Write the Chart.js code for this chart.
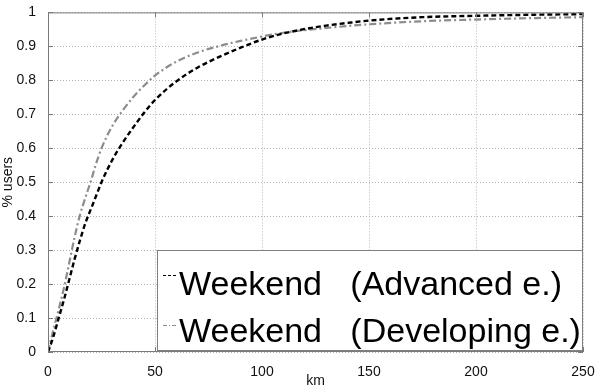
<!DOCTYPE html>
<html>
<head>
<meta charset="utf-8">
<script src="https://cdn.jsdelivr.net/npm/chart.js@4"></script>
<style>
  html, body { margin: 0; padding: 0; background: #fff; }
  #wrap { width: 611px; height: 390px; }
</style>
</head>
<body>
<div id="wrap"><canvas id="cdf"></canvas></div>
<script>
// datos (km vs fraccion acumulada de usuarios)
const km = [0, 2.5, 5, 7.5, 10, 12.5, 15, 17.5, 20, 22.5, 25, 30, 35, 40, 45, 50, 60, 70, 80, 90, 100, 110, 120, 130, 140, 150, 175, 200, 225, 250];
const advanced = [0, 0.045, 0.1, 0.155, 0.215, 0.275, 0.33, 0.38, 0.42, 0.46, 0.5, 0.565, 0.617, 0.663, 0.705, 0.742, 0.797, 0.838, 0.869, 0.896, 0.92, 0.938, 0.951, 0.961, 0.969, 0.976, 0.986, 0.99, 0.993, 0.995];
const developing = [0, 0.065, 0.125, 0.19, 0.265, 0.34, 0.405, 0.455, 0.503, 0.555, 0.6, 0.665, 0.712, 0.752, 0.785, 0.814, 0.855, 0.882, 0.901, 0.916, 0.929, 0.94, 0.948, 0.954, 0.96, 0.965, 0.974, 0.979, 0.983, 0.986];
const seriesLabels = ['Weekend   (Advanced e.)', 'Weekend   (Developing e.)'];
const xTicks = [0, 50, 100, 150, 200, 250];
const yTicks = [0, 0.1, 0.2, 0.3, 0.4, 0.5, 0.6, 0.7, 0.8, 0.9, 1];

const toPoints = vals => km.map((k, i) => ({ x: k, y: vals[i] }));

// rejilla punteada, caja con marcas hacia dentro y leyenda grande abajo a la derecha
const matlabBox = {
  id: 'matlabBox',
  beforeDatasetsDraw(chart) {
    const { ctx, chartArea: a, scales } = chart;
    ctx.save();
    ctx.strokeStyle = '#b4b4b4';
    ctx.lineWidth = 1;
    ctx.setLineDash([1, 2]);
    ctx.beginPath();
    xTicks.forEach(t => {
      const px = Math.round(scales.x.getPixelForValue(t)) + 0.5;
      ctx.moveTo(px, a.top); ctx.lineTo(px, a.bottom);
    });
    yTicks.forEach(t => {
      const py = Math.round(scales.y.getPixelForValue(t)) + 0.5;
      ctx.moveTo(a.left, py); ctx.lineTo(a.right, py);
    });
    ctx.stroke();
    ctx.restore();
  },
  afterDraw(chart) {
    const { ctx, chartArea: a, scales } = chart;
    ctx.save();
    ctx.strokeStyle = '#7a7a7a';
    ctx.lineWidth = 1;
    ctx.strokeRect(a.left + 0.5, a.top + 0.5, a.right - a.left - 1, a.bottom - a.top - 1);
    ctx.beginPath();
    xTicks.forEach(t => {
      const px = Math.round(scales.x.getPixelForValue(t)) + 0.5;
      ctx.moveTo(px, a.bottom); ctx.lineTo(px, a.bottom - 5);
      ctx.moveTo(px, a.top); ctx.lineTo(px, a.top + 5);
    });
    yTicks.forEach(t => {
      const py = Math.round(scales.y.getPixelForValue(t)) + 0.5;
      ctx.moveTo(a.left, py); ctx.lineTo(a.left + 5, py);
      ctx.moveTo(a.right, py); ctx.lineTo(a.right - 5, py);
    });
    ctx.stroke();

    // leyenda
    const w = 425, h = 100;
    const bx = a.right - w - 1, by = a.bottom - h - 2;
    ctx.fillStyle = '#fff';
    ctx.fillRect(bx, by, w, h);
    ctx.strokeStyle = '#808080';
    ctx.strokeRect(bx + 0.5, by + 0.5, w, h);
    ctx.font = '34px "Liberation Sans", Arial, sans-serif';
    ctx.textBaseline = 'alphabetic';
    chart.data.datasets.forEach((ds, i) => {
      const ly = by + 25 + i * 50;
      ctx.strokeStyle = ds.borderColor;
      ctx.lineWidth = 1;
      ctx.setLineDash(i === 0 ? [3, 2] : [4, 2, 1, 2]);
      ctx.beginPath();
      ctx.moveTo(bx + 6, ly + 0.5);
      ctx.lineTo(bx + 20, ly + 0.5);
      ctx.stroke();
      ctx.setLineDash([]);
      ctx.fillStyle = '#000';
      ctx.fillText(ds.label, bx + 22, by + 45 + i * 47);
    });
    ctx.restore();
  }
};

const ctx = document.getElementById('cdf').getContext('2d');
const cdfChart = new Chart(ctx, {
  type: 'line',
  data: {
    datasets: [
      {
        label: seriesLabels[0],
        data: toPoints(advanced),
        borderColor: '#000000',
        borderWidth: 2.4,
        borderDash: [5, 3],
        pointRadius: 0,
        cubicInterpolationMode: 'monotone'
      },
      {
        label: seriesLabels[1],
        data: toPoints(developing),
        borderColor: '#8c8c8c',
        borderWidth: 2.2,
        borderDash: [7, 3, 2, 3],
        pointRadius: 0,
        cubicInterpolationMode: 'monotone'
      }
    ]
  },
  options: {
    responsive: true,
    maintainAspectRatio: false,
    animation: false,
    layout: { padding: { top: 10, right: 28, left: 0, bottom: 0 } },
    plugins: {
      legend: { display: false },
      tooltip: { enabled: false }
    },
    scales: {
      x: {
        type: 'linear',
        min: 0,
        max: 250,
        afterFit: s => { s.height = 38; },
        afterBuildTicks: s => { s.ticks = xTicks.map(v => ({ value: v })); },
        ticks: {
          color: '#111',
          padding: 4,
          font: { family: '"Liberation Sans", Arial, sans-serif', size: 14 },
          maxRotation: 0
        },
        grid: { display: false },
        border: { display: false },
        title: {
          display: true,
          text: 'km',
          color: '#111',
          padding: { top: 1, bottom: 0 },
          font: { family: '"Liberation Sans", Arial, sans-serif', size: 14 }
        }
      },
      y: {
        min: 0,
        max: 1,
        afterFit: s => { s.width = 48; },
        afterBuildTicks: s => { s.ticks = yTicks.map(v => ({ value: v })); },
        ticks: {
          color: '#111',
          padding: 4,
          font: { family: '"Liberation Sans", Arial, sans-serif', size: 14 },
          callback: v => String(Math.round(v * 10) / 10)
        },
        grid: { display: false },
        border: { display: false },
        title: {
          display: true,
          text: '% users',
          color: '#111',
          padding: { top: 0, bottom: 2 },
          font: { family: '"Liberation Sans", Arial, sans-serif', size: 14 }
        }
      }
    }
  },
  plugins: [matlabBox]
});
</script>
</body>
</html>
